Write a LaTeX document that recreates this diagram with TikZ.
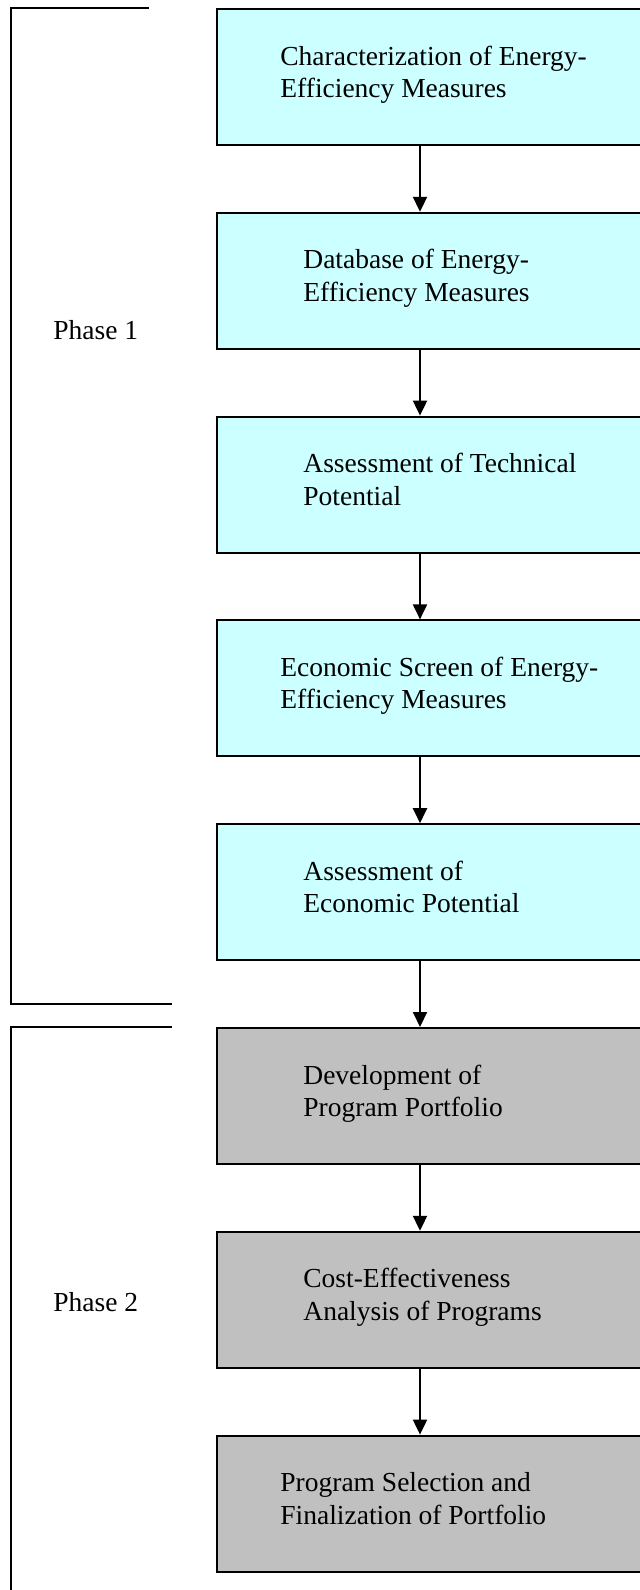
\documentclass[tikz,border=0pt]{standalone}
\usepackage{fontspec}
\setmainfont{Liberation Serif}
\usetikzlibrary{arrows.meta,calc}
\definecolor{phaseone}{HTML}{CCFFFF}
\definecolor{phasetwo}{HTML}{C0C0C0}
\newcommand{\twolines}[2]{\vtop{\hbox{\strut #1}\hbox{\strut #2}}}
\tikzset{
  stepbox/.style={draw=black, line width=1pt, rectangle, anchor=north west,
    minimum width=222pt, minimum height=68pt, inner sep=0pt},
  boxone/.style={stepbox, fill=phaseone},
  boxtwo/.style={stepbox, fill=phasetwo},
  txt/.style={anchor=base west, inner sep=0pt,
    font=\fontsize{13.75pt}{16.25pt}\selectfont},
  flow/.style={draw=black, line width=1pt, -{Triangle[width=7pt,length=7.5pt]}},
  bracket/.style={draw=black, line width=0.8pt}
}
\begin{document}
\begin{tikzpicture}[x=0.5pt,y=-0.5pt]
\useasboundingbox (0,0) rectangle (640,1590);
\clip (0,0) rectangle (640,1590);
% boxes
\node[boxone] (b1) at (216,8) {};
\node[boxone] (b2) at (216,211.8) {};
\node[boxone] (b3) at (216,415.6) {};
\node[boxone] (b4) at (216,619.4) {};
\node[boxone] (b5) at (216,823.2) {};
\node[boxtwo] (b6) at (216,1027) {};
\node[boxtwo] (b7) at (216,1230.8) {};
\node[boxtwo] (b8) at (216,1434.6) {};
% texts
\node[txt] (t1) at ($(b1.north west)+(64,57)$) {\twolines{Characterization of Energy-}{Efficiency Measures}};
\node[txt] (t2) at ($(b2.north west)+(87,57)$) {\twolines{Database of Energy-}{Efficiency Measures}};
\node[txt] (t3) at ($(b3.north west)+(87,57)$) {\twolines{Assessment of Technical}{Potential}};
\node[txt] (t4) at ($(b4.north west)+(64,57)$) {\twolines{Economic Screen of Energy-}{Efficiency Measures}};
\node[txt] (t5) at ($(b5.north west)+(87,57)$) {\twolines{Assessment of}{Economic Potential}};
\node[txt] (t6) at ($(b6.north west)+(87,57)$) {\twolines{Development of}{Program Portfolio}};
\node[txt] (t7) at ($(b7.north west)+(87,57)$) {\twolines{Cost-Effectiveness}{Analysis of Programs}};
\node[txt] (t8) at ($(b8.north west)+(64,57)$) {\twolines{Program Selection and}{Finalization of Portfolio}};
% arrows
\coordinate (ax) at (420,0);
\foreach \a/\b in {b1/b2,b2/b3,b3/b4,b4/b5,b5/b6,b6/b7,b7/b8}
  \draw[flow] (\a.south -| ax) -- (\b.north -| ax);
% brackets
\coordinate (p1top) at (149,8);
\coordinate (p1bot) at (172,1004);
\coordinate (p2top) at (172,1027);
\draw[bracket] (p1top) -- (11,8) -- (11,1004) -- (p1bot);
\draw[bracket] (p2top) -- (11,1027) -- (11,1600);
% phase labels
\node[txt] (ph1) at (53,339) {Phase 1};
\node[txt] (ph2) at (53,1311) {Phase 2};
\end{tikzpicture}
\end{document}
